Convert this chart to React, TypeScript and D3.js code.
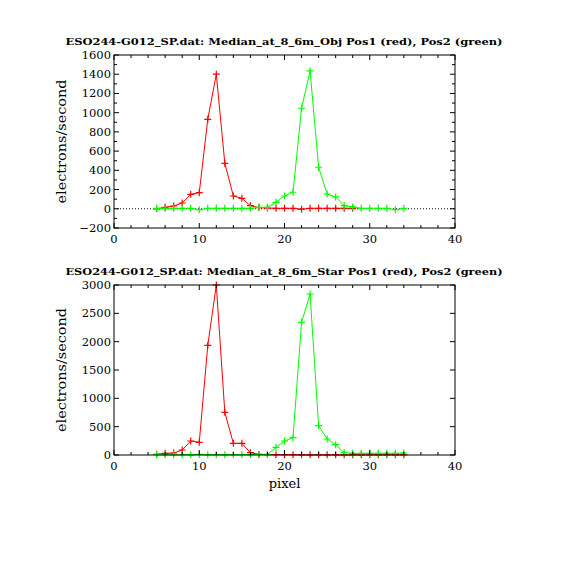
import * as d3 from "d3";

// pixel positions (x) shared by every series
const objRedX = d3.range(5, 29);
const objGreenX = d3.range(5, 35);
const starRedX = d3.range(5, 35);
const starGreenX = d3.range(5, 35);

// Median_at_8_6m_Obj
const objRed = [0, 15, 29, 60, 150, 168, 931, 1400, 473, 133, 109, 32, 12, 8, 5, 5, 5, -5, 5, 5, 5, 5, 5, 5];
const objGreen = [5, 5, 5, 5, 5, -10, 5, 5, 5, 5, 5, 5, 15, 15, 67, 133, 172, 1046, 1434, 432, 154, 123, 33, 19, 5, 5, 5, 5, -9, 4];

// Median_at_8_6m_Star
const starRed = [12, 29, 35, 88, 247, 224, 1935, 3000, 753, 206, 206, 41, 10, 8, 6, 6, 5, 3, 3, 3, 3, 3, 3, 3, 3, 3, 3, 3, 3, 3];
const starGreen = [5, 5, 5, 5, 5, 10, 5, 5, 5, 5, 8, 8, 10, 10, 135, 247, 306, 2341, 2841, 518, 282, 182, 41, 29, 29, 29, 29, 29, 29, 35];

const xTicks = [0, 10, 20, 30, 40];
const objYTicks = [-200, 0, 200, 400, 600, 800, 1000, 1200, 1400, 1600];
const starYTicks = [0, 500, 1000, 1500, 2000, 2500, 3000];

const RED = "#ff0000";
const GREEN = "#00ff00";
const FONT = "DejaVu Serif, serif";

type Series = { xs: number[]; ys: number[]; color: string };

type PanelProps = {
  top: number;
  bottom: number;
  title: string;
  yDomain: [number, number];
  yTicks: number[];
  yMinorStep: number | null;
  series: Series[];
  zeroLine: boolean;
  xLabel?: string;
};

const left = 114;
const right = 455;

function Panel({ top, bottom, title, yDomain, yTicks, yMinorStep, series, zeroLine, xLabel }: PanelProps) {
  const x = d3.scaleLinear().domain([0, 40]).range([left, right]);
  const y = d3.scaleLinear().domain(yDomain).range([bottom, top]);

  const xMinor = d3.range(0, 40.01, 2).filter((v) => v % 10 !== 0);
  const yMinor = yMinorStep
    ? d3.range(yDomain[0], yDomain[1] + 0.01, yMinorStep).filter((v) => !yTicks.includes(v))
    : [];

  const line = d3
    .line<[number, number]>()
    .x((d) => x(d[0]))
    .y((d) => y(d[1]));

  const major = 5;
  const minor = 3;

  return (
    <g>
      <text
        x={(left + right) / 2 - 0.5}
        y={top - 10}
        textAnchor="middle"
        fontFamily={FONT}
        fontWeight="bold"
        fontSize={10}
        textLength={437}
        lengthAdjust="spacingAndGlyphs"
      >
        {title}
      </text>

      {zeroLine && (
        <line x1={left} x2={right} y1={y(0)} y2={y(0)} stroke="#000" strokeDasharray="1,2" strokeWidth={1} />
      )}

      {series.map((s, i) => {
        const pts: [number, number][] = s.xs.map((xv, j) => [xv, s.ys[j]]);
        return (
          <g key={i}>
            <path d={line(pts) ?? ""} fill="none" stroke={s.color} strokeWidth={1} />
            {pts.map(([xv, yv], j) => (
              <path
                key={j}
                d={`M${x(xv) - 3.5},${y(yv)}h7M${x(xv)},${y(yv) - 3.5}v7`}
                stroke={s.color}
                strokeWidth={1.2}
              />
            ))}
          </g>
        );
      })}

      <rect x={left} y={top} width={right - left} height={bottom - top} fill="none" stroke="#000" strokeWidth={1} />

      {xTicks.map((t) => (
        <g key={"xt" + t}>
          <line x1={x(t)} x2={x(t)} y1={bottom} y2={bottom - major} stroke="#000" />
          <line x1={x(t)} x2={x(t)} y1={top} y2={top + major} stroke="#000" />
          <text x={x(t)} y={bottom + 15} textAnchor="middle" fontFamily={FONT} fontSize={11.5}>
            {t}
          </text>
        </g>
      ))}
      {xMinor.map((t) => (
        <g key={"xm" + t}>
          <line x1={x(t)} x2={x(t)} y1={bottom} y2={bottom - minor} stroke="#000" />
          <line x1={x(t)} x2={x(t)} y1={top} y2={top + minor} stroke="#000" />
        </g>
      ))}

      {yTicks.map((t) => (
        <g key={"yt" + t}>
          <line x1={left} x2={left + major} y1={y(t)} y2={y(t)} stroke="#000" />
          <line x1={right} x2={right - major} y1={y(t)} y2={y(t)} stroke="#000" />
          <text x={left - 3} y={y(t) + 4} textAnchor="end" fontFamily={FONT} fontSize={11.5}>
            {t < 0 ? "\u2212" + Math.abs(t) : t}
          </text>
        </g>
      ))}
      {yMinor.map((t) => (
        <g key={"ym" + t}>
          <line x1={left} x2={left + minor} y1={y(t)} y2={y(t)} stroke="#000" />
          <line x1={right} x2={right - minor} y1={y(t)} y2={y(t)} stroke="#000" />
        </g>
      ))}

      <text
        transform={`translate(66, ${(top + bottom) / 2}) rotate(-90)`}
        textAnchor="middle"
        fontFamily={FONT}
        fontSize={13}
        textLength={124}
        lengthAdjust="spacingAndGlyphs"
      >
        electrons/second
      </text>

      {xLabel && (
        <text x={(left + right) / 2} y={bottom + 33} textAnchor="middle" fontFamily={FONT} fontSize={13}>
          {xLabel}
        </text>
      )}
    </g>
  );
}

export default function App() {
  return (
    <svg
      width={570}
      height={570}
      viewBox="0 0 570 570"
      style={{ position: "absolute", left: 0, top: 0, background: "#fff" }}
    >
      <rect width={570} height={570} fill="#fff" />
      <Panel
        top={55}
        bottom={228}
        title="ESO244-G012_SP.dat: Median_at_8_6m_Obj Pos1 (red), Pos2 (green)"
        yDomain={[-200, 1600]}
        yTicks={objYTicks}
        yMinorStep={100}
        zeroLine={true}
        series={[
          { xs: objRedX, ys: objRed, color: RED },
          { xs: objGreenX, ys: objGreen, color: GREEN },
        ]}
      />
      <Panel
        top={285}
        bottom={455}
        title="ESO244-G012_SP.dat: Median_at_8_6m_Star Pos1 (red), Pos2 (green)"
        yDomain={[0, 3000]}
        yTicks={starYTicks}
        yMinorStep={null}
        zeroLine={false}
        xLabel="pixel"
        series={[
          { xs: starRedX, ys: starRed, color: RED },
          { xs: starGreenX, ys: starGreen, color: GREEN },
        ]}
      />
    </svg>
  );
}
